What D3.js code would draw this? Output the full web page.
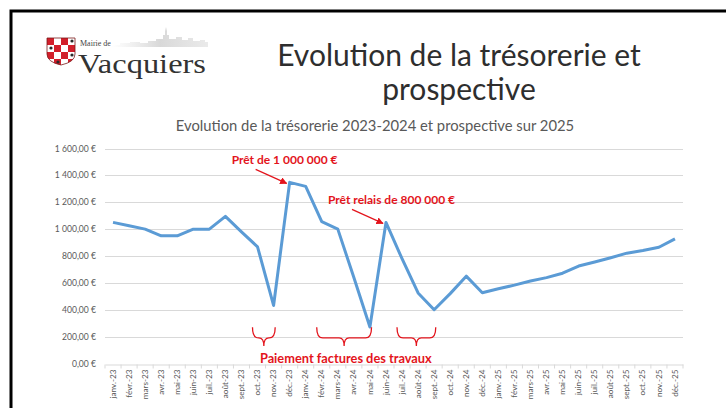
<!DOCTYPE html>
<html>
<head>
<meta charset="utf-8">
<script src="https://cdn.jsdelivr.net/npm/d3@7"></script>
<style>
  body { margin: 0; background: #fff; }
  svg { display: block; }
</style>
</head>
<body>
<div id="chart"></div>
<script>
// Data
const months = [
  "janv.-23", "févr.-23", "mars-23", "avr.-23", "mai-23", "juin-23", "juil.-23", "août-23", "sept.-23", "oct.-23", "nov.-23", "déc.-23",
  "janv.-24", "févr.-24", "mars-24", "avr.-24", "mai-24", "juin-24", "juil.-24", "août-24", "sept.-24", "oct.-24", "nov.-24", "déc.-24",
  "janv.-25", "févr.-25", "mars-25", "avr.-25", "mai-25", "juin-25", "juil.-25", "août-25", "sept.-25", "oct.-25", "nov.-25", "déc.-25"
];
const tresorerie = [
  1050, 1025, 1000, 950, 950, 1000, 1000, 1095, 980, 868, 432, 1348,
  1318, 1055, 1000, 640, 272, 1050, 780, 525, 400, 520, 650, 526,
  556, 583, 614, 639, 672, 725, 755, 787, 821, 841, 865, 928
];
const yTicks = [0, 200, 400, 600, 800, 1000, 1200, 1400, 1600];

// Annotations
const loans = [
  { label: "Prêt de 1 000 000 €", month: "déc.-23", value: 1348 },
  { label: "Prêt relais de 800 000 €", month: "juin-24", value: 1050 }
];
const paymentPeriods = [
  { from: "oct.-23", to: "nov.-23" },
  { from: "févr.-24", to: "mai-24" },
  { from: "juil.-24", to: "sept.-24" }
];
const paymentLabel = "Paiement factures des travaux";

const width = 726;
const height = 408;
const red = "#e3141c";
const blue = "#5b9bd5";
const font = "Lato, 'Open Sans', sans-serif";

const svg = d3.select("#chart").append("svg")
  .attr("width", width)
  .attr("height", height);

// Frame
svg.append("rect")
  .attr("x", 11).attr("y", 11)
  .attr("width", 730).attr("height", 420)
  .attr("fill", "none")
  .attr("stroke", "#000")
  .attr("stroke-width", 3);

// Logo
const defs = svg.append("defs");
const grad = defs.append("linearGradient").attr("id", "sky").attr("x1", 0).attr("x2", 1);
grad.append("stop").attr("offset", 0).attr("stop-color", "#d6d6d6").attr("stop-opacity", 0);
grad.append("stop").attr("offset", 0.5).attr("stop-color", "#cfcfcf").attr("stop-opacity", 0.8);
grad.append("stop").attr("offset", 1).attr("stop-color", "#dcdcdc").attr("stop-opacity", 0.6);

const logo = svg.append("g");
logo.append("path")
  .attr("d", "M208,47 L112,47 L112,45 L120,45 L120,43 L130,43 L130,42 L140,42 L140,43 L148,43 L148,41 L156,41 L156,39 L163,39 L163,35 L165,35 L165,31 L166,27 L167,31 L167,35 L169,35 L169,39 L176,39 L176,37 L182,37 L182,40 L188,40 L188,38 L193,38 L193,41 L200,41 L200,40 L205,40 L205,42 L208,42 Z")
  .attr("fill", "url(#sky)");

const shieldPath = "M47,38 L75,38 L75,54 Q75,62 61,65 Q47,62 47,54 Z";
defs.append("clipPath").attr("id", "shield").append("path").attr("d", shieldPath);
const cells = [];
for (let r = 0; r < 4; r++) for (let c = 0; c < 4; c++) cells.push({ r, c });
logo.append("g").attr("clip-path", "url(#shield)")
  .selectAll("rect").data(cells).enter().append("rect")
  .attr("x", d => 47 + d.c * 7)
  .attr("y", d => 38 + d.r * 7)
  .attr("width", 7).attr("height", 7)
  .attr("fill", d => (d.r + d.c) % 2 === 0 ? "#d21f2b" : "#ffffff");
logo.selectAll("circle.dot").data([[72, 41], [51, 48], [72, 55], [58, 62]]).enter()
  .append("circle").attr("class", "dot")
  .attr("cx", d => d[0]).attr("cy", d => d[1]).attr("r", 1.6)
  .attr("fill", "#2a2a2a");
logo.append("path").attr("d", shieldPath)
  .attr("fill", "none").attr("stroke", "#7a1a1a").attr("stroke-width", 0.8);

logo.append("text")
  .attr("x", 80).attr("y", 46)
  .attr("font-family", "'Liberation Serif', serif")
  .attr("font-size", 8)
  .attr("fill", "#444")
  .text("Mairie de");
logo.append("text")
  .attr("x", 78).attr("y", 73)
  .attr("font-family", "'Liberation Serif', serif")
  .attr("font-size", 27)
  .attr("fill", "#333")
  .attr("textLength", 128)
  .attr("lengthAdjust", "spacingAndGlyphs")
  .text("Vacquiers");

// Titles
svg.append("text")
  .attr("x", 459).attr("y", 66)
  .attr("text-anchor", "middle")
  .attr("font-family", font)
  .attr("font-size", 30)
  .attr("fill", "#2e2e2e")
  .text("Evolution de la trésorerie et");
svg.append("text")
  .attr("x", 459).attr("y", 100)
  .attr("text-anchor", "middle")
  .attr("font-family", font)
  .attr("font-size", 30)
  .attr("fill", "#2e2e2e")
  .text("prospective");
svg.append("text")
  .attr("x", 375).attr("y", 131)
  .attr("text-anchor", "middle")
  .attr("font-family", font)
  .attr("font-size", 14.8)
  .attr("fill", "#595959")
  .text("Evolution de la trésorerie 2023-2024 et prospective sur 2025");

// Scales
const x = d3.scaleBand().domain(months).range([105, 683]);
const y = d3.scaleLinear().domain([0, 1600]).range([363.5, 148.5]);
const cx = m => x(m) + x.bandwidth() / 2;

const fr = d3.formatLocale({ decimal: ",", thousands: "\u00a0", grouping: [3], currency: ["", "\u00a0€"] });
const fmt = fr.format("$,.2f");

// Gridlines + y labels
svg.append("g").selectAll("line").data(yTicks.filter(d => d > 0)).enter().append("line")
  .attr("x1", 105).attr("x2", 683)
  .attr("y1", d => Math.round(y(d)) + 0.5).attr("y2", d => Math.round(y(d)) + 0.5)
  .attr("stroke", "#d9d9d9").attr("stroke-width", 1);

svg.append("g").selectAll("text").data(yTicks).enter().append("text")
  .attr("x", 96)
  .attr("y", d => y(d) + 3)
  .attr("text-anchor", "end")
  .attr("font-family", font)
  .attr("font-size", 8.6)
  .attr("fill", "#595959")
  .text(d => fmt(d));

// X axis
const xAxis = d3.axisBottom(x).tickSize(0).tickFormat(d => d);
const gx = svg.append("g")
  .attr("transform", `translate(0,${Math.round(y(0)) + 0.5})`)
  .call(xAxis);
gx.select(".domain").attr("stroke", "#d9d9d9");
gx.selectAll(".tick text")
  .attr("transform", "rotate(-90)")
  .attr("text-anchor", "end")
  .attr("x", -5).attr("y", 0).attr("dy", "0.32em")
  .attr("font-family", font)
  .attr("font-size", 8.2)
  .attr("fill", "#595959");
gx.selectAll(".tick line").remove();
gx.append("g").selectAll("line").data(months.concat(["end"])).enter().append("line")
  .attr("x1", (d, i) => 105 + i * x.step()).attr("x2", (d, i) => 105 + i * x.step())
  .attr("y1", 0).attr("y2", 4)
  .attr("stroke", "#d9d9d9");

// Line
const line = d3.line()
  .x((d, i) => cx(months[i]))
  .y(d => y(d));
svg.append("path")
  .datum(tresorerie)
  .attr("d", line)
  .attr("fill", "none")
  .attr("stroke", blue)
  .attr("stroke-width", 3)
  .attr("stroke-linejoin", "round");

// Arrow marker
defs.append("marker")
  .attr("id", "arrow")
  .attr("viewBox", "0 0 10 10")
  .attr("refX", 9).attr("refY", 5)
  .attr("markerWidth", 6).attr("markerHeight", 6)
  .attr("orient", "auto")
  .append("path").attr("d", "M0,0 L10,5 L0,10 Z").attr("fill", red);

// Loan annotations
const ann = svg.append("g").selectAll("g").data(loans).enter().append("g");
ann.append("text")
  .attr("x", d => cx(d.month) - 58)
  .attr("y", d => y(d.value) - 18)
  .attr("font-family", font)
  .attr("font-weight", "bold")
  .attr("font-size", 12)
  .attr("fill", red)
  .text(d => d.label);
ann.append("line")
  .attr("x1", d => cx(d.month) - 34)
  .attr("y1", d => y(d.value) - 13)
  .attr("x2", d => cx(d.month) - 3)
  .attr("y2", d => y(d.value) + 1)
  .attr("stroke", red)
  .attr("stroke-width", 1.2)
  .attr("marker-end", "url(#arrow)");

// Payment braces
const braceTop = y(270), braceMid = y(190), braceTip = y(130);
function brace(x0, x1) {
  const xm = (x0 + x1) / 2;
  return `M${x0},${braceTop} Q${x0},${braceMid} ${x0 + 6},${braceMid} L${xm - 5},${braceMid} Q${xm},${braceMid} ${xm},${braceTip} Q${xm},${braceMid} ${xm + 5},${braceMid} L${x1 - 6},${braceMid} Q${x1},${braceMid} ${x1},${braceTop}`;
}
svg.append("g").selectAll("path").data(paymentPeriods).enter().append("path")
  .attr("d", d => brace(x(d.from) + 3, x(d.to) + x.bandwidth() * 0.6))
  .attr("fill", "none")
  .attr("stroke", red)
  .attr("stroke-width", 1.3);

svg.append("text")
  .attr("x", (x(paymentPeriods[0].from) + x(paymentPeriods[2].to) + x.bandwidth()) / 2)
  .attr("y", y(0) - 1)
  .attr("text-anchor", "middle")
  .attr("font-family", font)
  .attr("font-weight", "bold")
  .attr("font-size", 12.8)
  .attr("fill", red)
  .text(paymentLabel);
</script>
</body>
</html>
